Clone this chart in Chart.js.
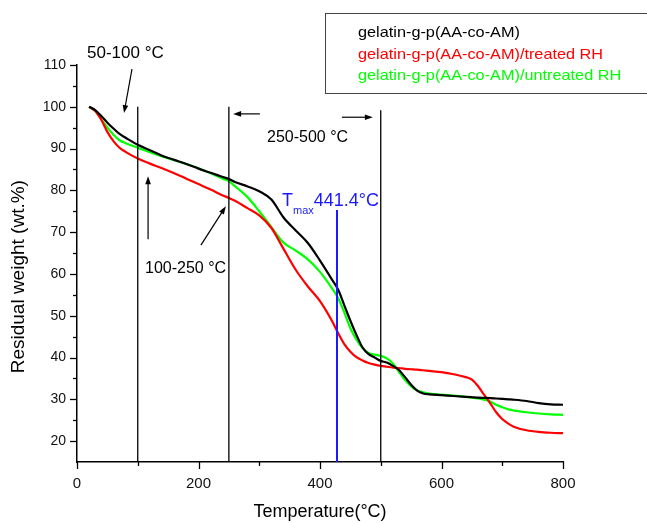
<!DOCTYPE html>
<html>
<head>
<meta charset="utf-8">
<script src="https://cdn.jsdelivr.net/npm/chart.js@4.4.1/dist/chart.umd.min.js"></script>
<style>
  html, body { margin: 0; padding: 0; background: #ffffff; }
  #wrap { width: 647px; height: 523px; position: relative; }
</style>
</head>
<body>
<div id="wrap"><canvas id="c" width="647" height="523"></canvas></div>
<script>
// ---------- data ----------
const temps = [20,30,40,50,60,70,80,100,120,140,160,180,200,220,240,250,260,280,300,320,340,360,380,400,420,430,440,450,460,470,480,490,500,510,520,530,540,550,560,570,580,600,620,640,650,660,670,680,690,700,710,720,740,760,780,800];
const weightBase = [100,99.2,97.8,96.2,94.8,93.5,92.6,90.9,89.6,88.3,87.3,86.3,85.2,84.2,83.2,82.7,82.0,81.0,79.8,77.8,73.5,70.4,67.4,63.2,58.6,56.2,52.5,48.8,45.4,42.4,40.8,40.0,39.2,38.8,38.0,37.0,35.3,33.5,32.1,31.4,31.2,31.0,30.8,30.6,30.5,30.4,30.35,30.3,30.2,30.1,30.0,29.9,29.6,29.1,28.8,28.7];
const weightTreated = [100,99.0,96.9,94.0,91.8,90.2,89.2,87.6,86.4,85.3,84.1,82.8,81.5,80.2,78.8,78.2,77.5,75.8,74.0,71.0,66.0,61.0,57.0,53.5,48.7,45.8,43.2,41.4,40.1,39.3,38.7,38.3,38.0,37.8,37.6,37.5,37.3,37.2,37.1,36.95,36.8,36.5,36.0,35.3,34.7,33.2,31.1,29.1,26.9,25.3,24.2,23.4,22.6,22.2,22.0,21.9];
const weightUntreated = [100,99.0,97.0,95.0,93.3,92.0,91.3,90.2,89.1,88.1,87.2,86.3,85.3,84.1,82.8,82.2,81.0,78.5,75.0,71.2,67.5,65.6,63.5,60.5,56.5,54.2,50.8,47.0,44.3,42.3,41.1,40.7,40.4,39.8,38.6,36.6,34.6,33.1,32.1,31.7,31.4,31.1,30.9,30.6,30.4,30.2,29.9,29.5,28.7,28.1,27.6,27.3,26.9,26.6,26.4,26.3];
const seriesNames = ['gelatin-g-p(AA-co-AM)','gelatin-g-p(AA-co-AM)/treated RH','gelatin-g-p(AA-co-AM)/untreated RH'];

const xTicks = [0,200,400,600,800];
const yTicks = [20,30,40,50,60,70,80,90,100,110];

// region separators (temperature, top weight)
const regionTemps = [100, 250, 500];
const regionTops = [100, 100, 99.2];
const tmaxTemp = 428;
const tmaxTop = 75.3;

// annotation texts and arrows in data units
const annoTexts = [
  {text:'50-100 °C', x:16.5, y:111.65, size:17},
  {text:'100-250 °C', x:112, y:60.2, size:16},
  {text:'250-500 °C', x:312.8, y:91.6, size:16}
];
const annoArrows = [
  {from:[90.5,109.0], to:[77.4,98.5]},
  {from:[117,68.3], to:[117,83.4]},
  {from:[204,66.9], to:[245,76.2]},
  {from:[301,98.3], to:[257,98.3]},
  {from:[436,97.5], to:[487,97.5]}
];
const tmaxLabel = {x:337.4, y:76.2, value:'441.4°C'};

// ---------- build ----------
const FONT = '"Liberation Sans", Arial, sans-serif';
const colors = ['#000000', '#ff0000', '#00ff00'];
const seriesData = [weightBase, weightTreated, weightUntreated].map(arr => temps.map((t,i) => ({x:t, y:arr[i]})));

const datasets = [];
regionTemps.forEach((t,i) => datasets.push({
  annot:true, data:[{x:t,y:15},{x:t,y:regionTops[i]}],
  borderColor:'#000000', borderWidth:1.3, pointRadius:0, tension:0
}));
datasets.push({annot:true, data:[{x:tmaxTemp,y:15},{x:tmaxTemp,y:tmaxTop}],
  borderColor:'#1a1aff', borderWidth:2, pointRadius:0, tension:0});
seriesNames.forEach((n,i) => datasets.push({
  label:n, data:seriesData[i], borderColor:colors[i], backgroundColor:colors[i],
  borderWidth:2.2, pointRadius:0, cubicInterpolationMode:'monotone', fill:false
}));

function arrow(ctx, x1, y1, x2, y2) {
  const a = Math.atan2(y2-y1, x2-x1);
  const L = 8, W = 2.8;
  ctx.beginPath();
  ctx.moveTo(x1, y1);
  ctx.lineTo(x2 - Math.cos(a)*L*0.8, y2 - Math.sin(a)*L*0.8);
  ctx.stroke();
  ctx.beginPath();
  ctx.moveTo(x2, y2);
  ctx.lineTo(x2 - Math.cos(a)*L + Math.sin(a)*W, y2 - Math.sin(a)*L - Math.cos(a)*W);
  ctx.lineTo(x2 - Math.cos(a)*L - Math.sin(a)*W, y2 - Math.sin(a)*L + Math.cos(a)*W);
  ctx.closePath();
  ctx.fill();
}

const decor = {
  id:'decor',
  afterDraw(chart) {
    const ctx = chart.ctx, xs = chart.scales.x, ys = chart.scales.y;
    const area = chart.chartArea;
    ctx.save();
    // ticks
    ctx.strokeStyle = '#000'; ctx.lineWidth = 1.3;
    for (let v = 20; v <= 110; v += 5) {
      const y = Math.round(ys.getPixelForValue(v)) + 0.5;
      const len = (v % 10 === 0) ? 7 : 4;
      ctx.beginPath(); ctx.moveTo(area.left, y); ctx.lineTo(area.left - len, y); ctx.stroke();
    }
    for (let t = 0; t <= 800; t += 100) {
      const x = Math.round(xs.getPixelForValue(t)) + 0.5;
      const len = (t % 200 === 0) ? 7 : 4;
      ctx.beginPath(); ctx.moveTo(x, area.bottom); ctx.lineTo(x, area.bottom + len); ctx.stroke();
    }
    // annotation texts
    ctx.fillStyle = '#000'; ctx.textBaseline = 'alphabetic'; ctx.textAlign = 'left';
    annoTexts.forEach(a => {
      ctx.font = a.size + 'px ' + FONT;
      ctx.fillText(a.text, xs.getPixelForValue(a.x), ys.getPixelForValue(a.y));
    });
    // arrows
    ctx.lineWidth = 1.2; ctx.strokeStyle = '#000'; ctx.fillStyle = '#000';
    annoArrows.forEach(a => arrow(ctx,
      xs.getPixelForValue(a.from[0]), ys.getPixelForValue(a.from[1]),
      xs.getPixelForValue(a.to[0]), ys.getPixelForValue(a.to[1])));
    // Tmax label
    ctx.fillStyle = '#1a1aff';
    let px = xs.getPixelForValue(tmaxLabel.x), py = ys.getPixelForValue(tmaxLabel.y);
    ctx.font = '18px ' + FONT; ctx.fillText('T', px, py);
    px += ctx.measureText('T').width;
    ctx.font = '11px ' + FONT; ctx.fillText('max', px, py + 8);
    px += ctx.measureText('max').width;
    ctx.font = '18px ' + FONT; ctx.fillText(tmaxLabel.value, px, py);
    // legend box
    ctx.strokeStyle = '#444'; ctx.lineWidth = 1;
    ctx.strokeRect(325.5, 13.5, 330, 80);
    ctx.font = '15px ' + FONT;
    const leg = chart.data.datasets.filter(d => !d.annot);
    leg.forEach((d,i) => {
      ctx.save();
      ctx.translate(358, 37 + i*21.5);
      ctx.scale(1.085, 1);
      ctx.fillStyle = d.borderColor;
      ctx.fillText(d.label, 0, 0);
      ctx.restore();
    });
    ctx.restore();
  }
};

new Chart(document.getElementById('c'), {
  type:'line',
  data:{datasets},
  options:{
    responsive:false, animation:false, devicePixelRatio:1,
    layout:{padding:{left:0, top:65, right:84, bottom:0}},
    plugins:{legend:{display:false}, tooltip:{enabled:false}},
    scales:{
      x:{
        type:'linear', min:0, max:800,
        afterBuildTicks: s => { s.ticks = xTicks.map(v => ({value:v})); },
        afterFit: s => { s.height = 61; },
        grid:{display:false, drawTicks:false},
        border:{display:true, color:'#000', width:1.5},
        ticks:{color:'#111', padding:13, maxRotation:0, font:{family:FONT, size:15}},
        title:{display:true, text:'Temperature(°C)', color:'#000', font:{family:FONT, size:18}, padding:{top:0,bottom:0}}
      },
      y:{
        type:'linear', min:15, max:110,
        afterBuildTicks: s => { s.ticks = yTicks.map(v => ({value:v})); },
        afterFit: s => { s.width = 77; },
        grid:{display:false, drawTicks:false},
        border:{display:true, color:'#000', width:1.5},
        ticks:{color:'#111', padding:11, font:{family:FONT, size:14}},
        title:{display:true, text:'Residual weight (wt.%)     ', color:'#000', font:{family:FONT, size:19}, padding:{top:7,bottom:0}}
      }
    }
  },
  plugins:[decor]
});
</script>
</body>
</html>
